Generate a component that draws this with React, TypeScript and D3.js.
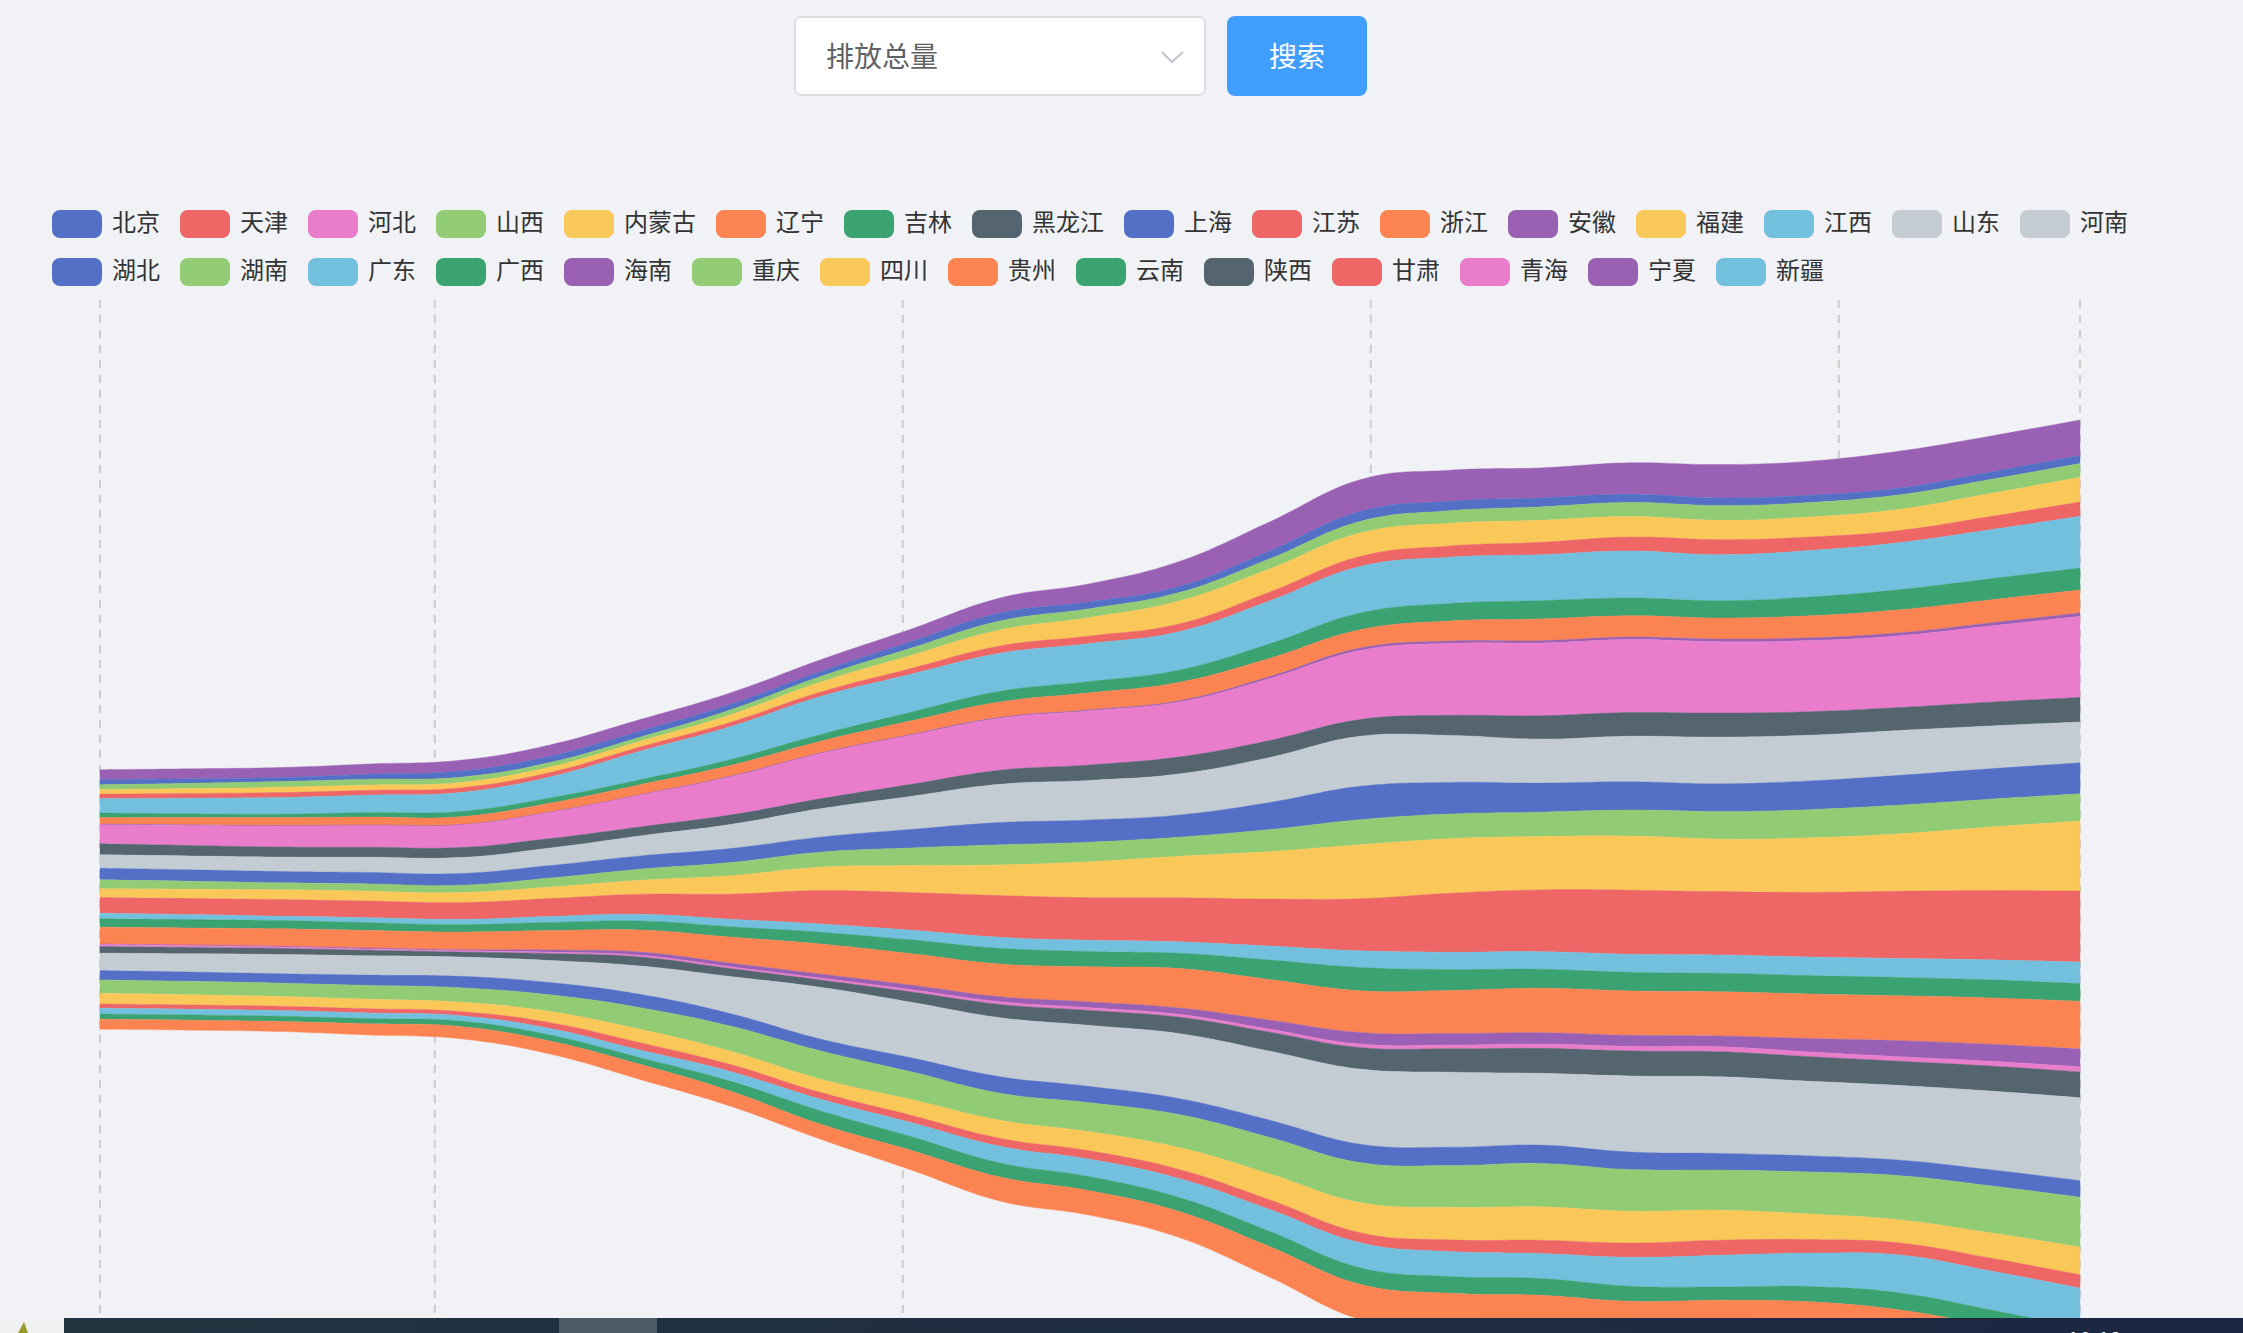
import { useEffect, useRef } from 'react';
import * as d3 from 'd3';

const years = [1997, 1998, 1999, 2000, 2001, 2002, 2003, 2004, 2005, 2006, 2007, 2008,
  2009, 2010, 2011, 2012, 2013, 2014, 2015, 2016, 2017, 2018, 2019];

// split lines of the single axis (axis units = years)
const gridTicks = [1997, 2000.72, 2005.92, 2011.12, 2016.32, 2019];

// series order of the river data; colours come from the palette in this order
const layerNames = ['北京', '重庆', '福建', '甘肃', '广东', '广西', '贵州', '海南', '河北', '黑龙江',
  '河南', '湖北', '湖南', '内蒙古', '江苏', '江西', '吉林', '辽宁', '宁夏', '青海', '陕西', '山东',
  '上海', '山西', '四川', '天津', '新疆', '云南', '浙江', '安徽'];

const palette = ['#5470c6', '#91cc75', '#fac858', '#ee6666', '#73c0de', '#3ba272',
  '#fc8452', '#9a60b4', '#ea7ccc', '#546570', '#c4ccd3'];

const legendNames = ['北京', '天津', '河北', '山西', '内蒙古', '辽宁', '吉林', '黑龙江', '上海', '江苏',
  '浙江', '安徽', '福建', '江西', '山东', '河南', '湖北', '湖南', '广东', '广西', '海南', '重庆',
  '四川', '贵州', '云南', '陕西', '甘肃', '青海', '宁夏', '新疆'];

const anhui = [100, 100, 100, 103, 108, 112, 116, 116, 117, 125, 150, 180, 250, 290, 317, 310, 300, 315, 333, 340, 369, 360, 356];
const beijing = [50, 45, 40, 50, 62, 63, 60, 55, 50, 65, 80, 70, 61, 80, 100, 95, 90, 83, 77, 73, 69, 74, 80];
const chongqing = [50, 53, 57, 57, 52, 45, 40, 48, 56, 72, 90, 87, 84, 100, 116, 125, 134, 140, 147, 145, 144, 140, 138];
const fujian = [43, 48, 53, 53, 54, 55, 57, 75, 100, 130, 160, 185, 230, 232, 234, 227, 220, 205, 193, 200, 212, 230, 247];
const gansu = [44, 47, 50, 48, 46, 44, 43, 43, 44, 58, 73, 75, 77, 88, 100, 112, 123, 138, 150, 135, 121, 132, 143];
const guangdong = [146, 156, 167, 175, 190, 210, 284, 330, 380, 380, 380, 380, 385, 430, 466, 463, 460, 470, 460, 465, 470, 490, 517];
const guangxi = [44, 38, 33, 45, 53, 52, 50, 58, 67, 86, 106, 114, 122, 145, 167, 175, 183, 178, 173, 187, 201, 210, 218];
const guizhou = [66, 73, 80, 78, 77, 88, 100, 108, 116, 135, 154, 170, 184, 183, 183, 200, 217, 213, 210, 220, 230, 230, 230];
const hainan = [7, 6, 5, 5, 5, 6, 6, 7, 8, 8, 8, 10, 12, 18, 24, 23, 23, 25, 27, 28, 29, 32, 34];
const hebei = [190, 200, 210, 218, 225, 260, 316, 380, 450, 490, 520, 540, 550, 620, 690, 720, 727, 730, 713, 710, 717, 760, 810];
const heilongjiang = [110, 105, 100, 100, 100, 95, 90, 95, 100, 120, 140, 155, 170, 170, 167, 200, 233, 236, 240, 235, 230, 238, 246];
const henan = [133, 138, 144, 152, 160, 175, 200, 240, 283, 330, 383, 395, 410, 450, 500, 470, 440, 455, 467, 457, 448, 428, 408];
const hubei = [117, 115, 113, 115, 117, 125, 133, 140, 150, 185, 223, 222, 222, 270, 333, 315, 290, 283, 277, 287, 298, 304, 310];
const hunan = [90, 80, 70, 72, 73, 90, 110, 130, 150, 175, 200, 195, 191, 220, 250, 247, 244, 260, 276, 282, 287, 278, 270];
const neimenggu = [87, 92, 97, 99, 100, 115, 140, 185, 234, 270, 307, 360, 415, 475, 540, 545, 533, 540, 524, 545, 574, 635, 700];
const jiangsu = [156, 161, 166, 167, 167, 178, 200, 250, 333, 375, 417, 425, 440, 470, 520, 590, 617, 640, 633, 645, 672, 692, 712];
const jiangxi = [57, 50, 44, 49, 53, 60, 67, 75, 83, 97, 110, 112, 115, 140, 167, 172, 176, 180, 183, 186, 189, 200, 212];
const jilin = [83, 83, 83, 78, 74, 82, 90, 103, 117, 137, 156, 154, 153, 195, 233, 210, 190, 187, 184, 184, 184, 181, 178];
const liaoning = [167, 170, 173, 175, 176, 193, 220, 260, 300, 314, 327, 350, 394, 405, 417, 430, 444, 444, 443, 445, 448, 462, 477];
const ningxia = [7, 8, 8, 10, 12, 22, 33, 37, 40, 45, 50, 58, 65, 90, 116, 115, 113, 110, 107, 134, 160, 170, 178];
const qinghai = [20, 17, 15, 13, 12, 14, 17, 18, 20, 23, 27, 27, 27, 30, 34, 38, 43, 46, 50, 48, 46, 48, 51];
const shaanxi = [66, 63, 60, 55, 50, 70, 90, 80, 73, 103, 133, 150, 164, 190, 216, 233, 250, 250, 250, 246, 242, 250, 259];
const shandong = [174, 183, 193, 193, 193, 220, 283, 370, 517, 555, 590, 610, 650, 690, 750, 750, 717, 760, 766, 745, 746, 786, 827];
const shanghai = [93, 93, 94, 103, 113, 123, 133, 125, 117, 140, 165, 163, 160, 172, 184, 184, 183, 175, 167, 161, 155, 160, 166];
const shanxi = [133, 133, 133, 138, 144, 165, 217, 250, 283, 277, 270, 290, 330, 365, 400, 417, 434, 417, 400, 420, 442, 470, 499];
const sichuan = [107, 102, 97, 95, 93, 113, 133, 133, 133, 157, 180, 190, 220, 260, 300, 325, 333, 317, 300, 255, 230, 253, 276];
const tianjin = [43, 43, 43, 43, 43, 58, 74, 70, 67, 73, 80, 85, 90, 95, 100, 117, 133, 142, 150, 135, 120, 127, 133];
const xinjiang = [57, 57, 57, 55, 54, 65, 76, 96, 116, 140, 167, 175, 190, 220, 250, 250, 250, 290, 317, 335, 380, 390, 400];
const yunnan = [53, 53, 53, 53, 53, 60, 67, 100, 134, 137, 140, 140, 140, 153, 166, 167, 167, 150, 133, 152, 170, 160, 150];
const zhejiang = [100, 100, 100, 112, 123, 130, 150, 150, 150, 195, 240, 245, 260, 305, 350, 355, 359, 350, 342, 360, 380, 370, 360];

const seriesByName: Record<string, number[]> = {
  北京: beijing, 重庆: chongqing, 福建: fujian, 甘肃: gansu, 广东: guangdong, 广西: guangxi,
  贵州: guizhou, 海南: hainan, 河北: hebei, 黑龙江: heilongjiang, 河南: henan, 湖北: hubei,
  湖南: hunan, 内蒙古: neimenggu, 江苏: jiangsu, 江西: jiangxi, 吉林: jilin, 辽宁: liaoning,
  宁夏: ningxia, 青海: qinghai, 陕西: shaanxi, 山东: shandong, 上海: shanghai, 山西: shanxi,
  四川: sichuan, 天津: tianjin, 新疆: xinjiang, 云南: yunnan, 浙江: zhejiang, 安徽: anhui,
};

const W = 2243;
const H = 1333;
const FONT = "'Noto Sans CJK SC', 'Noto Sans', sans-serif";

export default function App() {
  const svgRef = useRef<SVGSVGElement>(null);

  useEffect(() => {
    if (!svgRef.current) return;
    const svg = d3.select(svgRef.current);
    svg.selectAll('*').remove();

    svg.append('rect').attr('width', W).attr('height', H).attr('fill', '#f0f2f5');

    // river stacks the last series on top, then the rest in order
    const riverOrder = [layerNames[layerNames.length - 1], ...layerNames.slice(0, -1)];
    const colorOf = (name: string) => palette[layerNames.indexOf(name) % palette.length];

    const rows = years.map((year, i) => {
      const row: Record<string, number> = { year };
      layerNames.forEach(n => { row[n] = seriesByName[n][i]; });
      return row;
    });

    const axisTop = 300;
    const axisHeight = 1199;
    const axisLeft = 100;
    const axisRight = 2080;

    const x = d3.scaleLinear().domain([years[0], years[years.length - 1]]).range([axisLeft, axisRight]);
    const maxTotal = d3.max(rows, r => d3.sum(riverOrder, k => r[k])) || 1;
    const y = d3.scaleLinear()
      .domain([-maxTotal / 2, maxTotal / 2])
      .range([axisTop + axisHeight * 0.1, axisTop + axisHeight * 0.9]);

    // split lines
    svg.append('g')
      .selectAll('line')
      .data(gridTicks)
      .join('line')
      .attr('x1', d => x(d))
      .attr('x2', d => x(d))
      .attr('y1', axisTop)
      .attr('y2', axisTop + axisHeight)
      .attr('stroke', '#cccccc')
      .attr('stroke-width', 2)
      .attr('stroke-dasharray', '8 7');

    const stack = d3.stack<Record<string, number>>()
      .keys(riverOrder)
      .offset(d3.stackOffsetSilhouette);
    const layers = stack(rows);

    const area = d3.area<d3.SeriesPoint<Record<string, number>>>()
      .x(d => x(d.data.year))
      .y0(d => y(d[0]))
      .y1(d => y(d[1]))
      .curve(d3.curveCardinal.tension(-0.2));

    svg.append('g')
      .selectAll('path')
      .data(layers)
      .join('path')
      .attr('d', d => area(d) || '')
      .attr('fill', d => colorOf(d.key))
      .attr('stroke', d => colorOf(d.key))
      .attr('stroke-width', 0.4);

    // legend
    const legend = svg.append('g').style('font-family', FONT);
    const iconW = 50;
    const iconH = 28;
    const fontSize = 24;
    let cx = 52;
    let cy = 210;
    legendNames.forEach(name => {
      const w = iconW + 10 + name.length * fontSize;
      if (cx + w > 2160) {
        cx = 52;
        cy += iconH + 20;
      }
      legend.append('rect')
        .attr('x', cx)
        .attr('y', cy)
        .attr('width', iconW)
        .attr('height', iconH)
        .attr('rx', 8)
        .attr('fill', colorOf(name));
      legend.append('text')
        .attr('x', cx + iconW + 10)
        .attr('y', cy + iconH / 2 - 4)
        .attr('dominant-baseline', 'central')
        .style('font-size', `${fontSize}px`)
        .style('fill', '#333')
        .text(name);
      cx += w + 20;
    });

    // select + search button
    const form = svg.append('g').style('font-family', FONT);
    form.append('rect')
      .attr('x', 795).attr('y', 17).attr('width', 410).attr('height', 78)
      .attr('rx', 6)
      .attr('fill', '#ffffff')
      .attr('stroke', '#dcdfe6')
      .attr('stroke-width', 2);
    form.append('text')
      .attr('x', 826).attr('y', 55)
      .attr('dominant-baseline', 'central')
      .style('font-size', '28px')
      .style('fill', '#606266')
      .text('排放总量');
    form.append('path')
      .attr('d', 'M1162,52 L1172,62 L1183,52')
      .attr('fill', 'none')
      .attr('stroke', '#c0c4cc')
      .attr('stroke-width', 2);
    form.append('rect')
      .attr('x', 1227).attr('y', 16).attr('width', 140).attr('height', 80)
      .attr('rx', 8)
      .attr('fill', '#409eff');
    form.append('text')
      .attr('x', 1297).attr('y', 55)
      .attr('text-anchor', 'middle')
      .attr('dominant-baseline', 'central')
      .style('font-size', '28px')
      .style('fill', '#ffffff')
      .text('搜索');

    // bottom task bar strip of the screenshot
    const defs = svg.append('defs');
    const grad = defs.append('linearGradient').attr('id', 'taskbar');
    grad.append('stop').attr('offset', '0%').attr('stop-color', '#213540');
    grad.append('stop').attr('offset', '100%').attr('stop-color', '#1c2742');
    svg.append('rect').attr('x', 0).attr('y', 1318).attr('width', W).attr('height', 15).attr('fill', 'url(#taskbar)');
    svg.append('rect').attr('x', 0).attr('y', 1318).attr('width', 64).attr('height', 15).attr('fill', '#eef0f2');
    svg.append('path').attr('d', 'M18,1333 L24,1322 L28,1333 Z').attr('fill', '#9a9a2a');
    svg.append('rect').attr('x', 559).attr('y', 1318).attr('width', 98).attr('height', 15).attr('fill', '#4c5c65');
    svg.append('text')
      .attr('x', 2067).attr('y', 1348)
      .style('font-family', FONT)
      .style('font-size', '22px')
      .style('fill', '#ffffff')
      .text('10:12');
  }, []);

  return (
    <div style={{ position: 'absolute', left: 0, top: 0, width: W, height: H, overflow: 'hidden' }}>
      <svg ref={svgRef} width={W} height={H} style={{ display: 'block' }} />
    </div>
  );
}
